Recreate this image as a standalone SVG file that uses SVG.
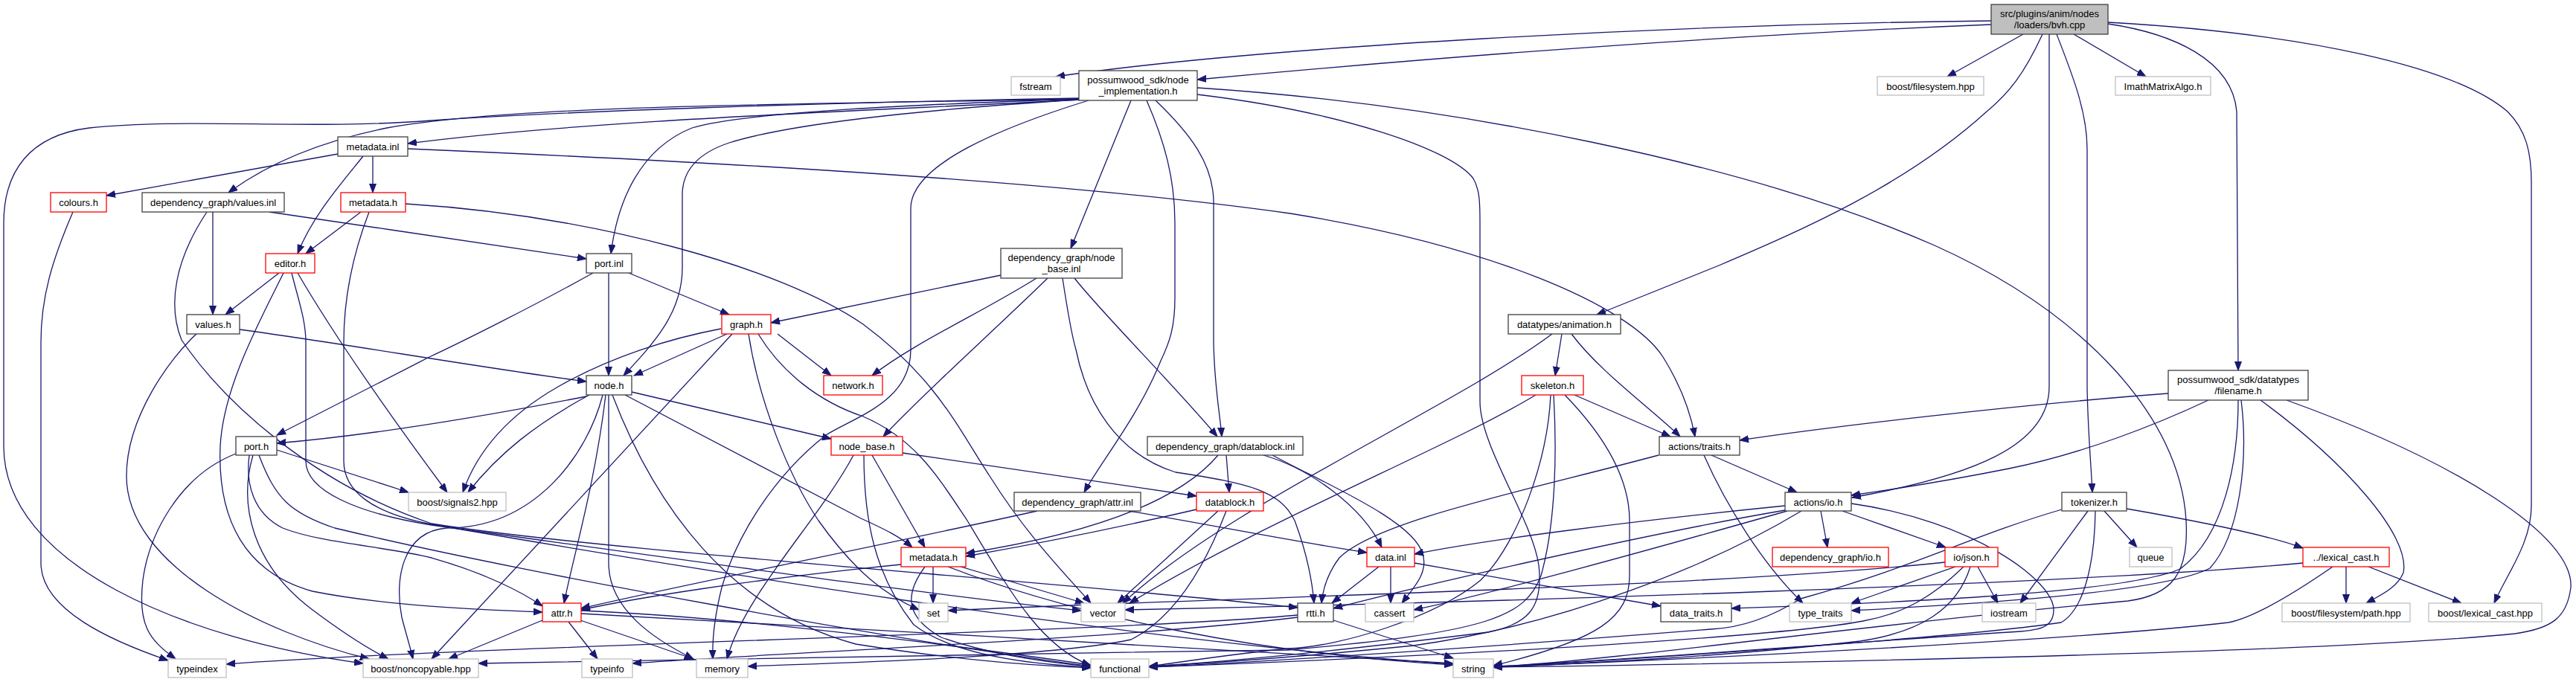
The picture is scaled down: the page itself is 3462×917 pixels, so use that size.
<svg xmlns="http://www.w3.org/2000/svg" width="3462" height="917" viewBox="0 0 3462 917">
<style>
.node rect{fill:#fff;stroke-width:1.3}
.blk rect{stroke:#404040}
.red rect{stroke:#ff0000}
.gry rect{stroke:#bfbfbf}
.root rect{fill:#bfbfbf;stroke:#404040}
.node text{font-family:"Liberation Sans",Arial,sans-serif;font-size:13px;fill:#000;text-anchor:middle}
.e path{fill:none;stroke:#191970;stroke-width:1.3;marker-end:url(#ah)}
</style>
<defs>
<marker id="ah" markerUnits="userSpaceOnUse" markerWidth="13" markerHeight="10" refX="12" refY="5" orient="auto" viewBox="0 0 13 10"><path d="M0,0.5 L12,5 L0,9.5 z" fill="#191970" stroke="#191970" stroke-width="1"/></marker>
</defs>
<rect width="3462" height="917" fill="#fff"/>
<g id="edges" class="e">
<path d="M2676,28 C2250,33 1700,62 1419,103"/>
<path d="M2676,33 C2300,48 1900,80 1609,107"/>
<path d="M2719,46 L2617,103"/>
<path d="M2787,46 L2884,103"/>
<path d="M2745,46 C2720,100 2700,125 2670,150 C2560,250 2420,310 2310,357 C2240,385 2190,405 2146,423"/>
<path d="M2754,46 L2754,520 C2754,600 2650,640 2489,669"/>
<path d="M2764,46 C2785,100 2805,150 2805,200 L2805,520 C2806,580 2810,620 2812,662"/>
<path d="M2833,32 C2920,45 3000,80 3006,150 L3008,498"/>
<path d="M2833,30 C3100,45 3300,90 3370,150 C3395,175 3402,205 3402,245 L3402,680 C3402,730 3370,770 3352,811"/>
<path d="M1450,134 C1200,148 800,160 548,193"/>
<path d="M1450,133 C1100,140 700,140 520,172 C430,190 360,220 307,259"/>
<path d="M1450,132 C1100,138 750,150 580,162 C420,175 250,158 120,172 C40,182 5,230 5,300 L5,600 C5,760 250,860 488,892"/>
<path d="M1450,133 C1250,140 1000,150 930,172 C860,200 830,270 821,341"/>
<path d="M1450,134 C1200,150 1050,170 980,192 C935,207 917,232 917,262 L917,360 C917,420 880,460 838,505"/>
<path d="M1520,135 L1439,334"/>
<path d="M1541,135 C1565,190 1579,240 1579,300 L1579,400 C1579,440 1572,460 1560,485 C1530,560 1480,620 1457,662"/>
<path d="M1553,135 C1600,180 1630,220 1631,270 L1631,460 C1632,520 1640,560 1642,587"/>
<path d="M1463,135 C1350,170 1224,220 1224,280 L1224,470 C1224,540 1150,560 1110,585 C1040,640 990,720 970,790 C960,830 957,860 958,886"/>
<path d="M1609,118 C1950,140 2350,220 2600,330 C2800,420 2930,560 2938,700 C2942,770 2920,800 2860,808 C2500,840 2200,885 2007,897"/>
<path d="M1609,127 C1800,150 1950,200 1980,240 C1989,255 1989,275 1989,300 L1989,540 C1989,600 2060,700 2068,760 C2075,820 2050,840 2000,850 C1800,875 1650,890 1544,896"/>
<path d="M454,207 L143,263"/>
<path d="M501,210 L501,259"/>
<path d="M488,210 C460,245 420,290 400,341"/>
<path d="M548,200 C900,215 1400,240 1734,287 C2000,330 2190,410 2235,480 C2260,520 2272,555 2278,587"/>
<path d="M98,285 C70,350 55,400 55,460 L55,757 C55,820 150,862 226,888"/>
<path d="M286,285 L286,423"/>
<path d="M362,285 C500,305 700,335 788,348"/>
<path d="M278,285 C235,350 225,410 244,457 C300,540 420,650 580,704 C800,740 1400,780 1744,817"/>
<path d="M485,285 L411,341"/>
<path d="M545,274 C800,290 1050,360 1160,436 C1260,510 1290,580 1330,640 C1380,720 1430,770 1466,811"/>
<path d="M496,285 C475,340 462,400 462,460 L462,620 C462,660 500,690 580,705 C900,760 1500,860 1953,893"/>
<path d="M375,367 L303,423"/>
<path d="M400,367 C460,470 540,580 601,662"/>
<path d="M381,367 C350,430 300,520 296,600 C292,700 330,770 420,795 C520,815 650,820 729,823"/>
<path d="M392,367 C400,400 411,430 411,460 L411,620 C411,660 480,690 580,706 C900,750 1250,800 1453,821"/>
<path d="M322,443 C450,460 650,495 788,513"/>
<path d="M264,449 C230,480 170,560 170,640 C170,760 350,850 496,886"/>
<path d="M818,367 L818,505"/>
<path d="M845,367 L980,423"/>
<path d="M797,367 C720,410 620,460 577,480 C500,520 420,560 372,585"/>
<path d="M977,449 L852,505"/>
<path d="M1045,449 L1117,505"/>
<path d="M969,442 C900,455 820,480 750,520 C680,560 640,610 622,662"/>
<path d="M984,449 L580,886"/>
<path d="M1006,449 C1020,540 1060,640 1100,700 C1150,770 1190,800 1235,820"/>
<path d="M1019,449 C1050,500 1100,540 1160,560 C1230,590 1260,640 1300,700 C1360,800 1400,870 1466,895"/>
<path d="M1345,370 C1250,390 1150,410 1036,434"/>
<path d="M1393,374 C1320,420 1230,460 1172,505"/>
<path d="M1408,374 C1330,450 1240,530 1187,587"/>
<path d="M1428,374 C1435,420 1440,450 1446,470 C1460,540 1500,610 1580,635 C1680,650 1720,660 1740,700 C1755,740 1763,775 1766,811"/>
<path d="M1444,374 C1480,420 1580,520 1636,587"/>
<path d="M2086,449 C1950,550 1650,680 1509,811"/>
<path d="M2099,449 L2090,505"/>
<path d="M2112,449 C2150,500 2220,550 2258,587"/>
<path d="M2914,529 C2700,545 2450,575 2338,592"/>
<path d="M2968,538 C2900,570 2800,610 2700,630 C2600,650 2530,660 2488,666"/>
<path d="M3008,538 C3008,620 2990,720 2930,765 C2850,800 2500,812 2327,818"/>
<path d="M3012,538 C3022,620 3010,720 2970,764 C2900,800 2600,815 2488,821"/>
<path d="M3038,538 C3150,620 3240,720 3230,770 C3222,790 3200,800 3180,811"/>
<path d="M3073,538 C3300,620 3460,720 3455,790 C3450,830 3430,845 3380,852 C3100,880 2300,893 2007,897"/>
<path d="M788,533 C650,560 500,585 372,596"/>
<path d="M792,531 C720,570 670,610 629,662"/>
<path d="M810,531 C790,610 720,710 600,710 C540,715 530,780 540,830 C545,850 550,865 555,886"/>
<path d="M814,531 C800,650 770,750 758,811"/>
<path d="M818,531 L818,757 C818,820 880,860 932,886"/>
<path d="M823,531 C880,680 980,820 1150,866 C1300,890 1400,895 1466,898"/>
<path d="M840,531 L1157,697 C1190,712 1210,722 1226,736"/>
<path d="M849,527 L1117,590"/>
<path d="M1161,612 C1161,700 1176,774 1228,840 C1280,880 1380,893 1466,897"/>
<path d="M1172,612 L1243,736"/>
<path d="M1213,609 L1608,667"/>
<path d="M1147,612 C1100,700 1000,800 977,886"/>
<path d="M1637,612 C1580,680 1450,720 1298,744"/>
<path d="M1648,612 L1652,662"/>
<path d="M1698,612 C1760,630 1830,680 1857,736"/>
<path d="M1710,612 C1780,650 1900,700 1912,745 C1920,770 1900,790 1884,811"/>
<path d="M1394,687 C1200,730 900,790 781,818"/>
<path d="M1517,687 C1650,710 1750,730 1837,743"/>
<path d="M1608,685 C1500,710 1400,730 1298,748"/>
<path d="M1637,687 L1502,811"/>
<path d="M1648,687 C1620,760 1580,830 1520,860 C1400,885 1100,892 1005,896"/>
<path d="M2064,531 C1950,600 1700,700 1518,811"/>
<path d="M2084,531 C2080,620 2040,730 1990,780 C1930,830 1800,870 1731,872 C1650,880 1590,890 1544,896"/>
<path d="M2088,531 C2092,600 2092,700 2071,774 C2050,830 2000,850 1731,874 C1300,880 800,888 643,892"/>
<path d="M2103,531 C2170,600 2190,657 2190,700 L2190,774 C2190,830 2150,860 2007,895"/>
<path d="M2116,531 L2245,587"/>
<path d="M2229,612 C2050,660 1850,700 1800,750 C1785,770 1778,790 1776,811"/>
<path d="M2300,612 L2415,662"/>
<path d="M2290,612 C2320,680 2370,760 2423,811"/>
<path d="M2447,687 L2456,736"/>
<path d="M2476,687 L2615,736"/>
<path d="M2399,680 C2200,700 2000,725 1901,745"/>
<path d="M2399,686 C2200,720 1900,790 1792,818"/>
<path d="M2402,687 C2250,730 2000,800 1900,820"/>
<path d="M2421,687 C2300,760 2100,840 1900,868 C1700,888 1600,893 1544,896"/>
<path d="M2488,677 C2650,700 2760,780 2760,820 C2760,845 2740,848 2700,850 C2400,870 2150,890 2007,896"/>
<path d="M2828,687 L2872,736"/>
<path d="M2806,687 L2715,811"/>
<path d="M2858,684 C2950,700 3050,720 3095,737"/>
<path d="M2771,685 C2650,720 2580,760 2420,805 C2380,830 2340,844 2300,846 C2000,870 1700,890 1544,897"/>
<path d="M2816,687 C2815,760 2800,820 2770,837 C2650,855 2300,880 2007,897"/>
<path d="M1853,762 L1790,811"/>
<path d="M1869,762 L1869,811"/>
<path d="M1901,757 C2000,775 2150,800 2232,815"/>
<path d="M2628,762 L2488,811"/>
<path d="M2658,762 L2685,811"/>
<path d="M2614,756 C2300,790 1600,805 1274,821"/>
<path d="M2639,762 C2600,800 2560,825 2504,835 C2400,855 2000,880 1544,897"/>
<path d="M2648,762 C2630,820 2580,850 2500,862 C2300,885 2100,893 2007,897"/>
<path d="M3153,762 L3153,811"/>
<path d="M3183,762 L3308,811"/>
<path d="M3095,757 C2800,785 2000,810 1512,820"/>
<path d="M3135,762 C3080,800 3030,830 2995,837 C2800,860 2300,885 2007,897"/>
<path d="M729,834 L603,886"/>
<path d="M764,836 L803,886"/>
<path d="M780,834 L932,886"/>
<path d="M781,821 C1000,830 1300,870 1466,894"/>
<path d="M781,825 C1100,840 1700,880 1953,892"/>
<path d="M1792,834 L1953,885"/>
<path d="M1744,827 C1500,850 600,870 304,893"/>
<path d="M1744,830 C1500,860 1000,880 850,892"/>
<path d="M317,610 C240,640 200,720 192,780 C185,840 200,860 236,886"/>
<path d="M340,612 C320,680 340,760 420,820 C460,850 490,870 522,886"/>
<path d="M372,605 L549,662"/>
<path d="M335,612 C330,650 340,690 380,710 C430,730 520,735 580,750 C650,770 700,795 729,815"/>
<path d="M348,612 C370,670 390,690 450,710 C700,770 1200,860 1466,896"/>
<path d="M1254,762 L1254,811"/>
<path d="M1243,762 C1215,800 1217,830 1265,857 C1330,880 1400,890 1466,896"/>
<path d="M1291,762 L1457,811"/>
<path d="M1211,759 C1000,780 850,805 781,820"/>
<path d="M1274,762 C1450,830 1700,880 1953,894"/>
</g>
<g id="n-bvh" class="node root"><rect x="2676" y="6" width="157" height="40"/><text x="2754.5" y="22.5">src/plugins/anim/nodes</text><text x="2754.5" y="37.5">/loaders/bvh.cpp</text></g>
<g id="n-fstream" class="node gry"><rect x="1359" y="103" width="66" height="25"/><text x="1392" y="120.5">fstream</text></g>
<g id="n-nodeimpl" class="node blk"><rect x="1450" y="95" width="159" height="40"/><text x="1529.5" y="111.5">possumwood_sdk/node</text><text x="1529.5" y="126.5">_implementation.h</text></g>
<g id="n-bfs" class="node gry"><rect x="2523" y="103" width="143" height="25"/><text x="2594.5" y="120.5">boost/filesystem.hpp</text></g>
<g id="n-imath" class="node gry"><rect x="2843" y="103" width="128" height="25"/><text x="2907" y="120.5">ImathMatrixAlgo.h</text></g>
<g id="n-metainl" class="node blk"><rect x="454" y="184" width="94" height="26"/><text x="501" y="201.5">metadata.inl</text></g>
<g id="n-colours" class="node red"><rect x="68" y="259" width="75" height="26"/><text x="105.5" y="276.5">colours.h</text></g>
<g id="n-valuesinl" class="node blk"><rect x="191" y="259" width="191" height="26"/><text x="286.5" y="276.5">dependency_graph/values.inl</text></g>
<g id="n-metah1" class="node red"><rect x="458" y="259" width="87" height="26"/><text x="501.5" y="276.5">metadata.h</text></g>
<g id="n-editor" class="node red"><rect x="357" y="341" width="66" height="26"/><text x="390" y="358.5">editor.h</text></g>
<g id="n-values" class="node blk"><rect x="251" y="423" width="71" height="26"/><text x="286.5" y="440.5">values.h</text></g>
<g id="n-portinl" class="node blk"><rect x="788" y="341" width="61" height="26"/><text x="818.5" y="358.5">port.inl</text></g>
<g id="n-graph" class="node red"><rect x="970" y="423" width="66" height="26"/><text x="1003" y="440.5">graph.h</text></g>
<g id="n-nodebaseinl" class="node blk"><rect x="1345" y="334" width="163" height="40"/><text x="1426.5" y="350.5">dependency_graph/node</text><text x="1426.5" y="365.5">_base.inl</text></g>
<g id="n-anim" class="node blk"><rect x="2027" y="423" width="151" height="26"/><text x="2102.5" y="440.5">datatypes/animation.h</text></g>
<g id="n-filename" class="node blk"><rect x="2914" y="498" width="188" height="40"/><text x="3008" y="514.5">possumwood_sdk/datatypes</text><text x="3008" y="529.5">/filename.h</text></g>
<g id="n-port" class="node blk"><rect x="317" y="587" width="55" height="25"/><text x="344.5" y="604.5">port.h</text></g>
<g id="n-node" class="node blk"><rect x="788" y="505" width="61" height="26"/><text x="818.5" y="522.5">node.h</text></g>
<g id="n-network" class="node red"><rect x="1107" y="505" width="79" height="26"/><text x="1146.5" y="522.5">network.h</text></g>
<g id="n-nodebase" class="node red"><rect x="1117" y="587" width="96" height="25"/><text x="1165" y="604.5">node_base.h</text></g>
<g id="n-datablockinl" class="node blk"><rect x="1542" y="587" width="209" height="25"/><text x="1646.5" y="604.5">dependency_graph/datablock.inl</text></g>
<g id="n-attrinl" class="node blk"><rect x="1363" y="662" width="170" height="25"/><text x="1448" y="679.5">dependency_graph/attr.inl</text></g>
<g id="n-datablock" class="node red"><rect x="1608" y="662" width="90" height="25"/><text x="1653" y="679.5">datablock.h</text></g>
<g id="n-metah2" class="node red"><rect x="1211" y="736" width="87" height="26"/><text x="1254.5" y="753.5">metadata.h</text></g>
<g id="n-skeleton" class="node red"><rect x="2045" y="505" width="83" height="26"/><text x="2086.5" y="522.5">skeleton.h</text></g>
<g id="n-traits" class="node blk"><rect x="2230" y="587" width="108" height="25"/><text x="2284" y="604.5">actions/traits.h</text></g>
<g id="n-io" class="node blk"><rect x="2399" y="662" width="89" height="25"/><text x="2443.5" y="679.5">actions/io.h</text></g>
<g id="n-tokenizer" class="node blk"><rect x="2771" y="662" width="87" height="25"/><text x="2814.5" y="679.5">tokenizer.h</text></g>
<g id="n-datainl" class="node red"><rect x="1837" y="736" width="64" height="26"/><text x="1869" y="753.5">data.inl</text></g>
<g id="n-dgio" class="node red"><rect x="2382" y="736" width="156" height="26"/><text x="2460" y="753.5">dependency_graph/io.h</text></g>
<g id="n-json" class="node red"><rect x="2614" y="736" width="71" height="26"/><text x="2649.5" y="753.5">io/json.h</text></g>
<g id="n-queue" class="node gry"><rect x="2862" y="736" width="57" height="26"/><text x="2890.5" y="753.5">queue</text></g>
<g id="n-lexical" class="node red"><rect x="3095" y="736" width="116" height="26"/><text x="3153" y="753.5">../lexical_cast.h</text></g>
<g id="n-signals2" class="node gry"><rect x="549" y="662" width="131" height="25"/><text x="614.5" y="679.5">boost/signals2.hpp</text></g>
<g id="n-attr" class="node red"><rect x="729" y="811" width="52" height="25"/><text x="755" y="828.5">attr.h</text></g>
<g id="n-set" class="node gry"><rect x="1235" y="811" width="39" height="25"/><text x="1254.5" y="828.5">set</text></g>
<g id="n-vector" class="node gry"><rect x="1453" y="811" width="59" height="25"/><text x="1482.5" y="828.5">vector</text></g>
<g id="n-rtti" class="node blk"><rect x="1744" y="811" width="48" height="25"/><text x="1768" y="828.5">rtti.h</text></g>
<g id="n-cassert" class="node gry"><rect x="1835" y="811" width="65" height="25"/><text x="1867.5" y="828.5">cassert</text></g>
<g id="n-datatraits" class="node blk"><rect x="2232" y="811" width="95" height="25"/><text x="2279.5" y="828.5">data_traits.h</text></g>
<g id="n-typetraits" class="node gry"><rect x="2405" y="811" width="83" height="25"/><text x="2446.5" y="828.5">type_traits</text></g>
<g id="n-iostream" class="node gry"><rect x="2664" y="811" width="72" height="25"/><text x="2700" y="828.5">iostream</text></g>
<g id="n-path" class="node gry"><rect x="3067" y="811" width="172" height="25"/><text x="3153" y="828.5">boost/filesystem/path.hpp</text></g>
<g id="n-blexical" class="node gry"><rect x="3264" y="811" width="152" height="25"/><text x="3340" y="828.5">boost/lexical_cast.hpp</text></g>
<g id="n-typeindex" class="node gry"><rect x="226" y="886" width="78" height="25"/><text x="265" y="903.5">typeindex</text></g>
<g id="n-noncopyable" class="node gry"><rect x="488" y="886" width="155" height="25"/><text x="565.5" y="903.5">boost/noncopyable.hpp</text></g>
<g id="n-typeinfo" class="node gry"><rect x="782" y="886" width="68" height="25"/><text x="816" y="903.5">typeinfo</text></g>
<g id="n-memory" class="node gry"><rect x="936" y="886" width="69" height="25"/><text x="970.5" y="903.5">memory</text></g>
<g id="n-functional" class="node gry"><rect x="1466" y="886" width="78" height="25"/><text x="1505" y="903.5">functional</text></g>
<g id="n-string" class="node gry"><rect x="1953" y="886" width="54" height="25"/><text x="1980" y="903.5">string</text></g>
</svg>
